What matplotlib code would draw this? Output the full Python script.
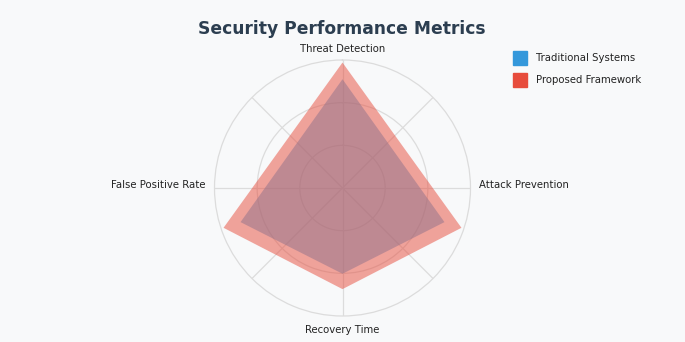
import numpy as np
import matplotlib
matplotlib.use("Agg")
import matplotlib.pyplot as plt
from matplotlib.lines import Line2D

# ---- data ----
categories = ["Threat Detection", "Attack Prevention", "Recovery Time", "False Positive Rate"]
traditional = [85, 84, 67, 84]
proposed = [98, 98, 79, 98]
series_names = ["Traditional Systems", "Proposed Framework"]

# ---- style / layout ----
BG = "#f8f9fa"
BLUE = "#3498db"
RED = "#e74c3c"
GRID = "#dcdcdc"
TXT = "#222222"
W, H = 685, 342

fig = plt.figure(figsize=(W / 100, H / 100), dpi=100, facecolor=BG)
ax = fig.add_axes([214.5 / W, (H - 316) / H, 256 / W, 256 / H], projection="polar", facecolor=BG)
ax.set_theta_offset(np.pi / 2)
ax.set_theta_direction(-1)

label_angles = np.deg2rad([0, 90, 180, 270])
vertex_angles = np.deg2rad([0, 108.5, 180, 251.5])


def closed(a):
    a = np.asarray(a, dtype=float)
    return np.concatenate([a, a[:1]])


ax.fill(closed(vertex_angles), closed(traditional), color=BLUE, alpha=0.5, lw=0, zorder=2)
ax.fill(closed(vertex_angles), closed(proposed), color=RED, alpha=0.5, lw=0, zorder=3)

ax.set_ylim(0, 100)
ax.set_yticks([100 / 3, 200 / 3])
ax.set_yticklabels([])
ax.set_xticks(np.deg2rad(np.arange(0, 360, 45)))
ax.set_xticklabels([])
ax.tick_params(length=0)
ax.grid(True, color=GRID, lw=0.9)
ax.spines["polar"].set_color(GRID)
ax.spines["polar"].set_linewidth(0.9)

px = 0.72  # points per pixel
offsets = [(0, 8.5, "center", "baseline"), (8.5, 3.5, "left", "center"),
           (0, -9, "center", "top"), (-9, 3.5, "right", "center")]
for ang, name, (dx, dy, ha, va) in zip(label_angles, categories, offsets):
    ax.annotate(name, xy=(ang, 100), xytext=(dx * px, dy * px), textcoords="offset points",
                ha=ha, va=va, fontsize=7.3, color=TXT, annotation_clip=False)

fig.text(342.2 / W, (H - 34.3) / H, "Security Performance Metrics", ha="center", va="baseline",
         fontsize=12.3, fontweight="bold", color="#2c3e50")

handles = [Line2D([], [], marker="s", linestyle="None", markersize=9.4,
                  markerfacecolor=c, markeredgecolor=c) for c in (BLUE, RED)]
fig.legend(handles, series_names, loc="upper left", bbox_to_anchor=(515 / W, (H - 53.3) / H),
           frameon=False, fontsize=7.3, handlelength=1.0, handletextpad=1.07,
           borderpad=0, borderaxespad=0, labelspacing=1.18, labelcolor=TXT)

fig.savefig("out.png", dpi=100, facecolor=BG)
